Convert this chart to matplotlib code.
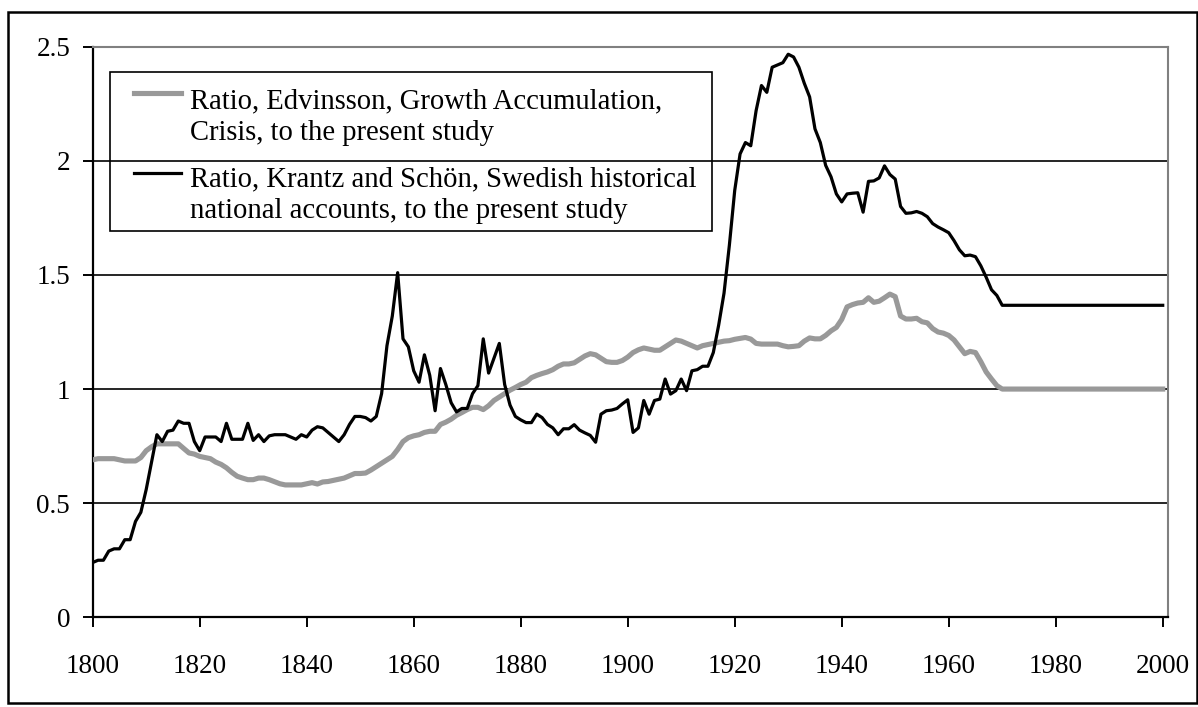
import numpy as np
import matplotlib
matplotlib.use("Agg")
import matplotlib.pyplot as plt
from matplotlib.lines import Line2D
from matplotlib.patches import Rectangle

plt.rcParams["font.family"] = ["Liberation Serif", "DejaVu Serif"]

# yearly values 1800-1970, then flat to 2000
years = list(range(1800, 1971)) + [2000]

edvinsson = [
    0.69, 0.695, 0.695, 0.695, 0.695, 0.69, 0.685, 0.685, 0.685, 0.70,
    0.73, 0.747, 0.76, 0.76, 0.76, 0.76, 0.76, 0.74, 0.72, 0.715,
    0.705, 0.70, 0.695, 0.68, 0.67, 0.655, 0.635, 0.618, 0.61, 0.603,
    0.603, 0.61, 0.61, 0.603, 0.594, 0.585, 0.58, 0.58, 0.58, 0.58,
    0.585, 0.59, 0.584, 0.593, 0.595, 0.60, 0.605, 0.61, 0.62, 0.63,
    0.63, 0.632, 0.645, 0.66, 0.675, 0.69, 0.705, 0.735, 0.77, 0.787,
    0.795, 0.80, 0.81, 0.815, 0.815, 0.845, 0.855, 0.868, 0.885, 0.897,
    0.91, 0.92, 0.92, 0.91, 0.927, 0.95, 0.965, 0.98, 0.995, 1.007,
    1.02, 1.03, 1.05, 1.06, 1.068, 1.075, 1.085, 1.10, 1.11, 1.11,
    1.115, 1.13, 1.145, 1.155, 1.15, 1.135, 1.12, 1.117, 1.117, 1.125,
    1.14, 1.16, 1.172, 1.18, 1.175, 1.17, 1.17, 1.185, 1.20, 1.215,
    1.21, 1.20, 1.19, 1.18, 1.19, 1.195, 1.20, 1.205, 1.21, 1.212,
    1.218, 1.222, 1.226, 1.219, 1.20, 1.197, 1.197, 1.197, 1.197, 1.19,
    1.185, 1.187, 1.19, 1.21, 1.224, 1.22, 1.22, 1.235, 1.255, 1.27,
    1.305, 1.36, 1.37, 1.377, 1.38, 1.40, 1.38, 1.385, 1.40, 1.416,
    1.405, 1.32, 1.307, 1.307, 1.31, 1.295, 1.29, 1.265, 1.25, 1.245,
    1.235, 1.215, 1.185, 1.155, 1.165, 1.16, 1.12, 1.075, 1.044, 1.015,
    1.0,
    1.0,
]

krantz = [
    0.24, 0.25, 0.25, 0.29, 0.30, 0.30, 0.34, 0.34, 0.42, 0.46,
    0.56, 0.68, 0.80, 0.77, 0.815, 0.82, 0.86, 0.85, 0.85, 0.77,
    0.73, 0.79, 0.79, 0.79, 0.77, 0.85, 0.78, 0.78, 0.78, 0.85,
    0.775, 0.80, 0.77, 0.795, 0.80, 0.80, 0.80, 0.79, 0.78, 0.80,
    0.79, 0.82, 0.835, 0.83, 0.81, 0.79, 0.77, 0.80, 0.845, 0.88,
    0.88, 0.875, 0.86, 0.88, 0.98, 1.19, 1.32, 1.51, 1.22, 1.185,
    1.08, 1.03, 1.15, 1.06, 0.905, 1.09, 1.02, 0.94, 0.90, 0.915,
    0.915, 0.98, 1.015, 1.22, 1.07, 1.135, 1.20, 1.02, 0.93, 0.88,
    0.865, 0.853, 0.853, 0.89, 0.875, 0.845, 0.83, 0.80, 0.826, 0.826,
    0.844, 0.82, 0.808, 0.797, 0.767, 0.89, 0.905, 0.908, 0.915, 0.935,
    0.953, 0.81, 0.83, 0.95, 0.89, 0.95, 0.956, 1.044, 0.978, 0.993,
    1.044, 0.993, 1.08, 1.085, 1.10, 1.10, 1.16, 1.28, 1.42, 1.63,
    1.87, 2.03, 2.08, 2.066, 2.22, 2.33, 2.30, 2.41, 2.42, 2.43,
    2.467, 2.455, 2.41, 2.34, 2.28, 2.14, 2.08, 1.98, 1.93, 1.855,
    1.82, 1.855, 1.858, 1.86, 1.775, 1.91, 1.912, 1.925, 1.978, 1.94,
    1.92, 1.80, 1.77, 1.772, 1.778, 1.77, 1.755, 1.725, 1.71, 1.698,
    1.685, 1.65, 1.61, 1.584, 1.587, 1.58, 1.54, 1.49, 1.435, 1.41,
    1.367,
    1.367,
]

labels = [
    "Ratio, Edvinsson, Growth Accumulation,\nCrisis, to the present study",
    "Ratio, Krantz and Schön, Swedish historical\nnational accounts, to the present study",
]

x_ticks = list(range(1800, 2001, 20))
y_ticks = [0, 0.5, 1, 1.5, 2, 2.5]
y_ticklabels = ["0", "0.5", "1", "1.5", "2", "2.5"]

GRAY = "#999999"
W, H = 1198, 707
FS = 19.5
FS_LEG = 20.6


def fx(px):
    return px / W


def fy(py):
    return 1 - py / H


fig = plt.figure(figsize=(W / 100, H / 100), dpi=100)
ax = fig.add_axes([fx(92.7), fy(617.3), (1167.7 - 92.7) / W, (617.3 - 46.7) / H])

ax.plot(years, edvinsson, color=GRAY, lw=3.7, solid_joinstyle="round", zorder=3)
ax.plot(years, krantz, color="black", lw=2.3, solid_joinstyle="round", zorder=4)

ax.set_xlim(1800, 2000.93)
ax.set_ylim(0, 2.5)
ax.set_xticks(x_ticks)
ax.set_xticklabels([str(t) for t in x_ticks])
ax.set_yticks(y_ticks)
ax.set_yticklabels(y_ticklabels)

for yv in [0.5, 1, 1.5, 2]:
    ax.axhline(yv, color="black", lw=1.2, zorder=1)

for side in ["top", "right"]:
    ax.spines[side].set_color("#808080")
    ax.spines[side].set_linewidth(1.5)
for side in ["left", "bottom"]:
    ax.spines[side].set_color("black")
    ax.spines[side].set_linewidth(1.6)

ax.tick_params(axis="both", direction="out", length=7.2, width=1.4,
               labelsize=FS, color="black")
ax.tick_params(axis="y", pad=9)
ax.tick_params(axis="x", pad=19)

# legend box, drawn in figure pixels
fig.add_artist(Rectangle((fx(110), fy(230.7)), (712 - 110) / W, (230.7 - 71.7) / H,
                         transform=fig.transFigure, fill=False, ec="black", lw=1.2))
handles = [(93.3, GRAY, 3.7), (172.7, "black", 2.3)]
baselines = [(108, 139.7), (186.3, 218)]
for (hy, col, lw), lab, bl in zip(handles, labels, baselines):
    fig.add_artist(Line2D([fx(134.3), fx(181)], [fy(hy), fy(hy)],
                          transform=fig.transFigure, color=col, lw=lw))
    for line, b in zip(lab.split("\n"), bl):
        fig.text(fx(190), fy(b), line, fontsize=FS_LEG, va="baseline", ha="left")

# outer frame
fig.add_artist(Rectangle((fx(8.3), fy(703)), (1196.7 - 8.3) / W, (703 - 12.3) / H,
                         transform=fig.transFigure, fill=False, ec="black", lw=1.8))

fig.savefig("out.png", dpi=100)
